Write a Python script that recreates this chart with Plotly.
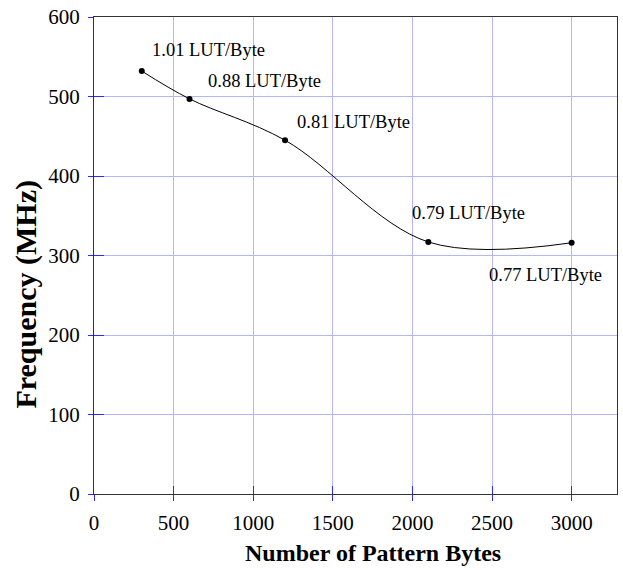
import plotly.graph_objects as go

# Data
pattern_bytes = [300, 600, 1200, 2100, 3000]
frequency_mhz = [532, 497, 445, 317, 316]
lut_labels = ["1.01 LUT/Byte", "0.88 LUT/Byte", "0.81 LUT/Byte", "0.79 LUT/Byte", "0.77 LUT/Byte"]
x_ticks = [0, 500, 1000, 1500, 2000, 2500, 3000]
y_ticks = [0, 100, 200, 300, 400, 500, 600]

# label anchor positions (left edge, vertical middle) in data units
label_x = [350, 704, 1262, 1982, 2470]
label_y = [559, 519, 468, 353, 275]

FONT = "Liberation Serif, Times New Roman, serif"
GRID = "#b4b4ff"
TICK = "#2a2aff"
XMAX = 3285

fig = go.Figure()
fig.add_trace(go.Scatter(
    x=pattern_bytes, y=frequency_mhz, mode="lines+markers",
    line=dict(color="black", width=1, shape="spline", smoothing=1.0),
    marker=dict(color="black", size=6),
    showlegend=False, hoverinfo="skip",
))
# invisible trace for inside ticks axis
fig.add_trace(go.Scatter(x=[0], y=[0], xaxis="x2", yaxis="y2", mode="markers",
                         marker=dict(opacity=0), showlegend=False, hoverinfo="skip"))

for tx, lx, ly in zip(lut_labels, label_x, label_y):
    fig.add_annotation(x=lx, y=ly, text=tx, showarrow=False, xanchor="left", yanchor="middle",
                       font=dict(family=FONT, size=18.5, color="black"))

fig.add_annotation(xref="paper", yref="paper", x=(374 - 94) / 524, y=-(554.5 - 494.3) / 483.6,
                   text="<b>Number of Pattern Bytes</b>", showarrow=False,
                   xanchor="center", yanchor="middle",
                   font=dict(family=FONT, size=24, color="black"))
fig.add_annotation(xref="paper", yref="paper", x=-(94 - 26) / 524, y=(494.3 - 292) / 483.6,
                   text="<b>Frequency (MHz)</b>", showarrow=False, textangle=-90,
                   xanchor="center", yanchor="middle",
                   font=dict(family=FONT, size=30, color="black"))

fig.update_layout(
    width=623, height=570,
    margin=dict(l=94, r=5, t=11, b=76),
    paper_bgcolor="white", plot_bgcolor="white",
    xaxis=dict(range=[0, XMAX], tickvals=x_ticks, ticktext=[str(v) for v in x_ticks],
               showgrid=True, gridcolor=GRID, gridwidth=1, zeroline=False,
               showline=True, linecolor="#333333", linewidth=1, mirror=True,
               ticks="outside", ticklen=6, tickcolor=TICK, tickwidth=1,
               tickfont=dict(family=FONT, size=21, color="black"), ticklabelstandoff=4,
               ticklabeloverflow="allow"),
    yaxis=dict(range=[0, 600], tickvals=y_ticks, ticktext=[str(v) for v in y_ticks],
               showgrid=True, gridcolor=GRID, gridwidth=1, zeroline=False,
               showline=True, linecolor="#333333", linewidth=1, mirror=True,
               ticks="outside", ticklen=5, tickcolor=TICK, tickwidth=1,
               tickfont=dict(family=FONT, size=21, color="black"), ticklabelstandoff=4,
               ticklabeloverflow="allow"),
    xaxis2=dict(range=[0, XMAX], overlaying="x", tickvals=x_ticks, showticklabels=False,
                ticks="inside", ticklen=8, tickcolor=TICK, showgrid=False, zeroline=False,
                showline=False, side="bottom", anchor="y2"),
    yaxis2=dict(range=[0, 600], overlaying="y", tickvals=y_ticks, showticklabels=False,
                ticks="inside", ticklen=10, tickcolor=TICK, showgrid=False, zeroline=False,
                showline=False, side="left", anchor="x2"),
)

fig.write_html("out.html", config={"displayModeBar": False},
               post_script="document.body.style.margin='0';document.body.style.overflow='hidden';")
